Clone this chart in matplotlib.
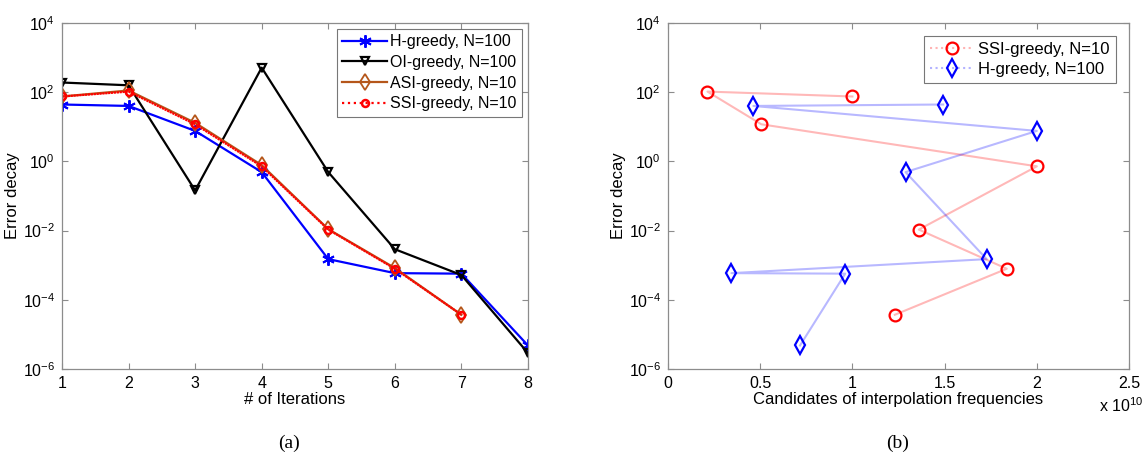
import numpy as np
import matplotlib
matplotlib.use('Agg')
import matplotlib.pyplot as plt
from matplotlib.ticker import FuncFormatter, NullLocator

plt.rcParams['font.family'] = ['Liberation Sans', 'DejaVu Sans']
plt.rcParams['font.size'] = 12
plt.rcParams['mathtext.fontset'] = 'custom'
plt.rcParams['mathtext.rm'] = 'Liberation Sans'

# error decay per greedy iteration
iters = [1, 2, 3, 4, 5, 6, 7, 8]
h_err = [44, 40, 7.6, 0.49, 1.5e-3, 5.9e-4, 5.7e-4, 4.8e-6]
oi_err = [190, 158, 0.145, 510, 0.49, 2.9e-3, 5.2e-4, 2.9e-6]
asi_err = [75, 112, 13.0, 0.78, 0.011, 8.3e-4, 3.7e-5]
ssi_err = [75, 104, 11.8, 0.72, 0.0107, 7.9e-4, 3.7e-5]

# interpolation frequencies picked at each iteration (Hz)
ssi_freq = [1.0e10, 0.214e10, 0.506e10, 2.0e10, 1.36e10, 1.837e10, 1.23e10]
h_freq = [1.492e10, 0.463e10, 2.0e10, 1.288e10, 1.728e10, 0.344e10, 0.961e10, 0.716e10]

spine_col = '#8c8c8c'
fs = 12
tfs = 11.5

fig = plt.figure(figsize=(11.46, 4.59), dpi=100)
ax1 = fig.add_axes([0.0541, 0.196, 0.4066, 0.754])
ax2 = fig.add_axes([0.5829, 0.196, 0.4023, 0.754])

def style_axes(ax):
    ax.set_yscale('log')
    ax.set_ylim(1e-6, 1e4)
    ax.set_yticks([1e-6, 1e-4, 1e-2, 1e0, 1e2, 1e4])
    ax.yaxis.set_minor_locator(NullLocator())
    for s in ax.spines.values():
        s.set_color(spine_col)
        s.set_linewidth(0.9)
    ax.tick_params(direction='in', length=4, width=0.8, color=spine_col,
                   top=True, right=True, labelsize=tfs, pad=5)
    ax.set_ylabel('Error decay', fontsize=fs, labelpad=2)

# (a) error decay
style_axes(ax1)
ax1.plot(iters, h_err, '-', color='#0000ff', lw=1.6, marker=(6, 2, 0), ms=9,
         mew=1.4, label='H-greedy, N=100')
ax1.plot(iters, oi_err, '-', color='black', lw=1.6, marker='v', ms=5.5,
         mfc='none', mew=1.6, label='OI-greedy, N=100')
ax1.plot(iters[:7], asi_err, '-', color='#b5561a', lw=1.6, marker='d', ms=8.5,
         mfc='none', mew=1.3, label='ASI-greedy, N=10')
ax1.plot(iters[:7], ssi_err, color='#ff0000', lw=1.6, linestyle=(0, (1, 0.3)),
         marker='o', ms=5, mfc='none', mew=1.8, label='SSI-greedy, N=10')
ax1.set_xlim(1, 8)
ax1.set_xticks(iters)
ax1.set_xlabel('# of Iterations', fontsize=fs, labelpad=1)
leg1 = ax1.legend(loc='upper right', fontsize=11.5, handlelength=2.8,
                  handletextpad=0.2, borderpad=0.35, labelspacing=0.36,
                  fancybox=False, borderaxespad=0.35)
leg1.get_frame().set_edgecolor('#555555')
leg1.get_frame().set_linewidth(0.8)
for h in leg1.legend_handles:
    if h.get_label().startswith('SSI'):
        h.set_linestyle(':')

# (b) chosen frequencies
style_axes(ax2)
ax2.plot(ssi_freq, ssi_err, '-', color='#ff0000', alpha=0.28, lw=1.5)
ax2.plot(h_freq, h_err, '-', color='#0000ff', alpha=0.28, lw=1.5)
ax2.plot(ssi_freq, ssi_err, 'o', color='#ff0000', ms=8.5, mfc='none', mew=1.6)
ax2.plot(h_freq, h_err, 'd', color='#0000ff', ms=9, mfc='none', mew=1.6)
ax2.plot([], [], ':', color='#ffb3b3', lw=1.5, marker='o', ms=8.5,
         mfc='none', mew=1.6, mec='#ff0000', label='SSI-greedy, N=10')
ax2.plot([], [], ':', color='#b3b3ff', lw=1.5, marker='d', ms=9,
         mfc='none', mew=1.6, mec='#0000ff', label='H-greedy, N=100')
ax2.set_xlim(0, 2.5e10)
ax2.set_xticks([0, 0.5e10, 1e10, 1.5e10, 2e10, 2.5e10])
ax2.xaxis.set_major_formatter(FuncFormatter(lambda v, p: '%g' % (v / 1e10)))
ax2.set_xlabel('Candidates of interpolation frequencies', fontsize=fs, labelpad=1)
fig.text(0.9975, 0.095, r'x 10$^{10}$', fontsize=tfs, ha='right', va='bottom')
leg2 = ax2.legend(loc='upper right', fontsize=fs, handlelength=2.6,
                  handletextpad=0.3, borderpad=0.35, labelspacing=0.3,
                  fancybox=False, borderaxespad=0.8)
leg2.get_frame().set_edgecolor('#555555')
leg2.get_frame().set_linewidth(0.8)

fig.text(0.2522, 0.025, '(a)', family=['Liberation Serif', 'DejaVu Serif'],
         fontsize=14, ha='center')
fig.text(0.7836, 0.025, '(b)', family=['Liberation Serif', 'DejaVu Serif'],
         fontsize=14, ha='center')

fig.savefig('out.png', dpi=100)
